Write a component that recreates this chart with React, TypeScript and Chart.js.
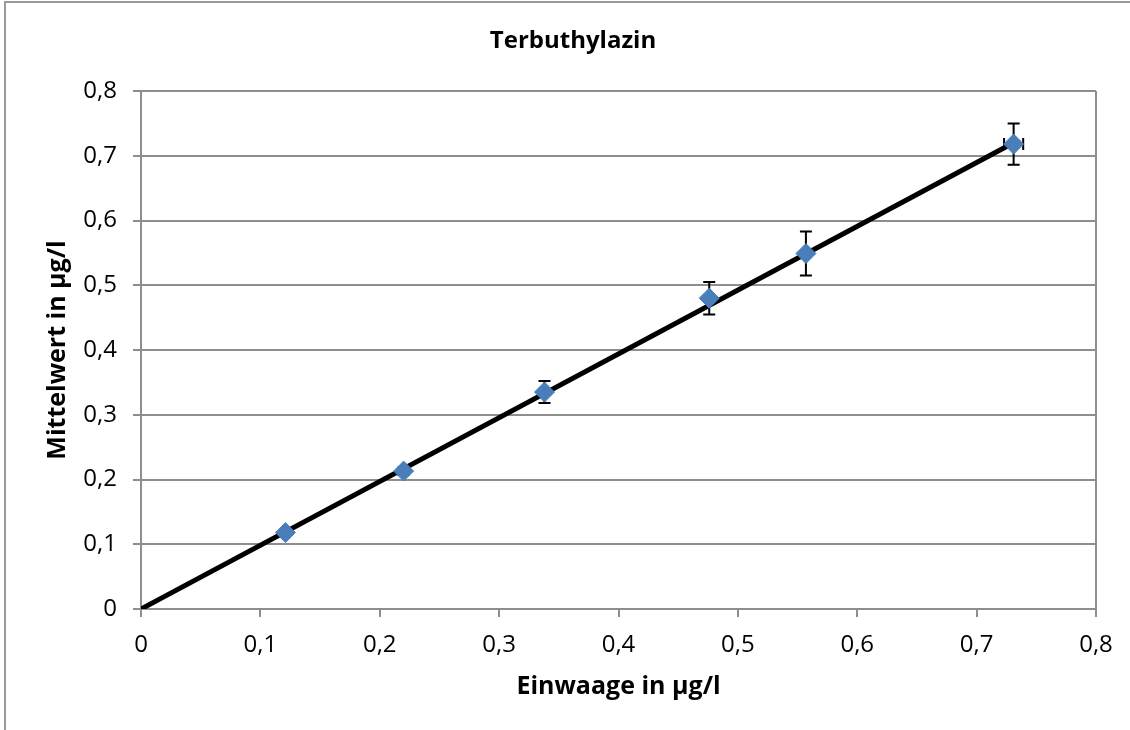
import React, { useEffect, useRef } from "react";
import { Chart, registerables } from "chart.js";

Chart.register(...registerables);

// ---- data ----
const xVals = [0.121, 0.22, 0.338, 0.476, 0.557, 0.731];
const yVals = [0.118, 0.213, 0.335, 0.48, 0.549, 0.718];
const yErr = [0.003, 0.006, 0.017, 0.025, 0.034, 0.032];
const xErr = [0, 0, 0, 0, 0, 0.008];
const trendX = [0, 0.731];
const trendY = [0, 0.72];
const titleText = "Terbuthylazin";
const xTitle = "Einwaage in µg/l";
const yTitle = "Mittelwert in µg/l";

const FONT = "'Open Sans', sans-serif";
const GRID = "#8e8e8e";
const fmt = (v: number) => (Math.abs(v) < 1e-9 ? "0" : v.toFixed(1).replace(".", ","));

const errorBarPlugin = {
  id: "errorBars",
  beforeDatasetDraw(chart: any, args: any) {
    if (args.index !== 0) return;
    const { ctx, scales } = chart;
    const xs = scales.x;
    const ys = scales.y;
    ctx.save();
    ctx.strokeStyle = "#000";
    ctx.lineWidth = 2;
    const cap = 6;
    xVals.forEach((xv, i) => {
      const px = xs.getPixelForValue(xv);
      const py = ys.getPixelForValue(yVals[i]);
      if (yErr[i] > 0) {
        const t = ys.getPixelForValue(yVals[i] + yErr[i]);
        const b = ys.getPixelForValue(yVals[i] - yErr[i]);
        ctx.beginPath();
        ctx.moveTo(px, t);
        ctx.lineTo(px, b);
        ctx.moveTo(px - cap, t);
        ctx.lineTo(px + cap, t);
        ctx.moveTo(px - cap, b);
        ctx.lineTo(px + cap, b);
        ctx.stroke();
      }
      if (xErr[i] > 0) {
        const l = xs.getPixelForValue(xv - xErr[i]);
        const r = xs.getPixelForValue(xv + xErr[i]);
        ctx.beginPath();
        ctx.moveTo(l, py);
        ctx.lineTo(r, py);
        ctx.moveTo(l, py - cap);
        ctx.lineTo(l, py + cap);
        ctx.moveTo(r, py - cap);
        ctx.lineTo(r, py + cap);
        ctx.stroke();
      }
    });
    ctx.restore();
  },
};

export default function App() {
  const ref = useRef<HTMLCanvasElement | null>(null);

  useEffect(() => {
    if (!ref.current) return;
    const chart = new Chart(ref.current, {
      type: "scatter",
      data: {
        datasets: [
          {
            label: "Mittelwert",
            data: xVals.map((x, i) => ({ x, y: yVals[i] })),
            pointStyle: "rectRot",
            pointRadius: 10,
            backgroundColor: "#4a7ebb",
            borderColor: "#4a7ebb",
            borderWidth: 1,
            showLine: false,
            order: 0,
          },
          {
            label: "Trend",
            data: trendX.map((x, i) => ({ x, y: trendY[i] })),
            showLine: true,
            borderColor: "#000",
            borderWidth: 5,
            pointRadius: 0,
            order: 1,
          },
        ],
      },
      options: {
        responsive: false,
        animation: false,
        layout: { padding: 0 },
        plugins: {
          legend: { display: false },
          tooltip: { enabled: false },
          title: {
            display: true,
            text: titleText,
            color: "#000",
            font: { family: FONT, size: 24, weight: "bold" },
            padding: { top: 26.6, bottom: 35.6 },
          },
        },
        scales: {
          x: {
            type: "linear",
            min: 0,
            max: 0.8,
            afterFit: (s: any) => {
              s.height = 121;
            },
            ticks: {
              stepSize: 0.1,
              color: "#000",
              font: { family: FONT, size: 24 },
              padding: 14,
              callback: (v: any) => fmt(Number(v)),
            },
            grid: {
              drawOnChartArea: true,
              color: (c: any) =>
                c.tick && Math.abs(c.tick.value - 0.8) < 1e-6 ? GRID : "rgba(0,0,0,0)",
              tickColor: GRID,
              tickLength: 8,
              lineWidth: 2,
            },
            border: { display: true, color: GRID, width: 2 },
            title: {
              display: true,
              text: xTitle,
              color: "#000",
              font: { family: FONT, size: 25, weight: "bold" },
              padding: { top: 0, bottom: 28.5 },
            },
          },
          y: {
            type: "linear",
            min: 0,
            max: 0.8,
            afterFit: (s: any) => {
              s.width = 141;
            },
            ticks: {
              stepSize: 0.1,
              color: "#000",
              font: { family: FONT, size: 24 },
              padding: 16,
              callback: (v: any) => fmt(Number(v)),
            },
            grid: {
              color: GRID,
              tickColor: GRID,
              tickLength: 8,
              lineWidth: 2,
            },
            border: { display: true, color: GRID, width: 2 },
            title: {
              display: true,
              text: yTitle,
              color: "#000",
              font: { family: FONT, size: 25, weight: "bold" },
              padding: { top: 43, bottom: 0 },
            },
          },
          yR: {
            type: "linear",
            position: "right",
            display: true,
            afterFit: (s: any) => {
              s.width = 50;
            },
            ticks: { display: false },
            grid: { display: false, drawTicks: false },
            border: { display: false },
          },
        },
      },
      plugins: [errorBarPlugin],
    } as any);
    return () => chart.destroy();
  }, []);

  return (
    <div
      style={{
        position: "fixed",
        left: 0,
        top: 0,
        width: 1130,
        height: 730,
        overflow: "hidden",
        background: "#fff",
      }}
    >
      <div
        style={{
          position: "absolute",
          left: 4,
          top: 1,
          width: 1300,
          height: 900,
          borderTop: "2px solid #9a9a9a",
          borderLeft: "2px solid #9a9a9a",
          boxSizing: "border-box",
        }}
      />
      <canvas
        ref={ref}
        width={1146}
        height={730}
        style={{ position: "absolute", left: 0, top: 0, display: "block" }}
      />
    </div>
  );
}
